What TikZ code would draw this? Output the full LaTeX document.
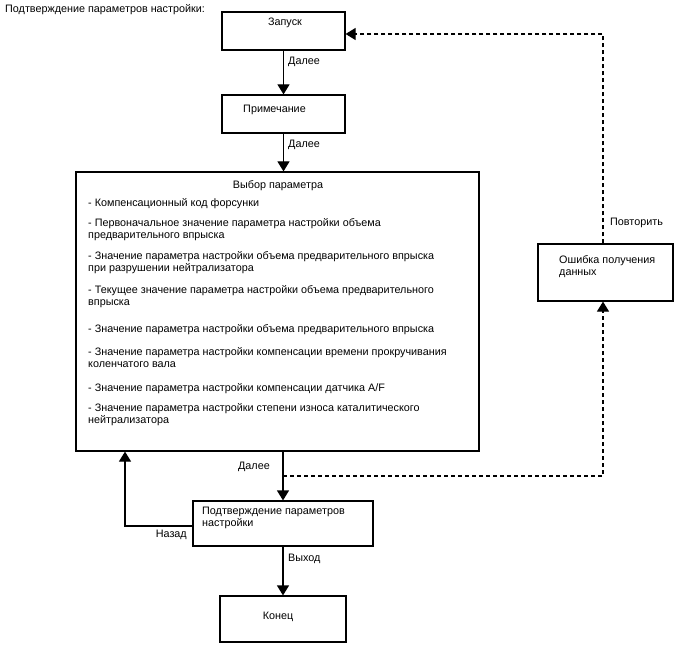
\documentclass[tikz,border=0pt]{standalone}
\usepackage{fontspec}
\setmainfont{Liberation Sans}
\usetikzlibrary{arrows.meta, positioning, calc}
\tikzset{
  box/.style={rectangle, draw=black, fill=white, line width=1.2pt, inner sep=0pt},
  txt/.style={font=\fontsize{10.8}{11.6}\selectfont, inner sep=0pt, align=left},
  arrow/.style={-{Triangle[length=10pt,width=12pt]}, line width=1.2pt, color=black},
  dasharrow/.style={arrow, dash pattern=on 4pt off 3pt},
  line/.style={line width=1.2pt, color=black}
}

\begin{document}
\begin{tikzpicture}[x=1pt, y=-1pt]
  \useasboundingbox (0,0) rectangle (688,658);

  % Boxes
  \node[box, minimum width=123pt, minimum height=38pt] (start) at (283.5,31) {};
  \node[box, minimum width=123pt, minimum height=38pt] (note) at (283.5,114) {};
  \node[box, minimum width=403pt, minimum height=279pt] (param) at (277.5,311.5) {};
  \node[box, minimum width=180pt, minimum height=45pt] (confirm) at (283,523.5) {};
  \node[box, minimum width=126pt, minimum height=46pt] (stop) at (283,619) {};
  \node[box, minimum width=135pt, minimum height=57pt] (error) at (605.5,272.5) {};

  % Box texts (base = last line)
  \node[txt, anchor=base west] (title) at (5,13) {Подтверждение параметров настройки:};
  \node[txt, anchor=base] (starttxt) at (285,26) {Запуск};
  \node[txt, anchor=base] (notetxt) at (274.5,113) {Примечание};
  \node[txt, anchor=base] (paramtxt) at (278,188) {Выбор параметра};
  \node[txt, anchor=base west] (item1) at (88,206) {- Компенсационный код форсунки};
  \node[txt, anchor=base west] (item2) at (88,238) {- Первоначальное значение параметра настройки объема\\предварительного впрыска};
  \node[txt, anchor=base west] (item3) at (88,271) {- Значение параметра настройки объема предварительного впрыска\\при разрушении нейтрализатора};
  \node[txt, anchor=base west] (item4) at (88,305) {- Текущее значение параметра настройки объема предварительного\\впрыска};
  \node[txt, anchor=base west] (item5) at (88,332) {- Значение параметра настройки объема предварительного впрыска};
  \node[txt, anchor=base west] (item6) at (88,367) {- Значение параметра настройки компенсации времени прокручивания\\коленчатого вала};
  \node[txt, anchor=base west] (item7) at (88,391) {- Значение параметра настройки компенсации датчика A/F};
  \node[txt, anchor=base west] (item8) at (88,423) {- Значение параметра настройки степени износа каталитического\\нейтрализатора};
  \node[txt, anchor=base west] (confirmtxt) at (202,526) {Подтверждение параметров\\настройки};
  \node[txt, anchor=base] (stoptxt) at (278,619) {Конец};
  \node[txt, anchor=base west] (errortxt) at (559,275) {Ошибка получения\\данных};

  % Turn points
  \coordinate (backturn) at (125,526);
  \coordinate (split) at (283,476);
  \coordinate (errturn) at (603,476);
  \coordinate (retryturn) at (603,34);

  % Main flow
  \draw[arrow] (start) -- (note);
  \draw[arrow] (note) -- (note.south |- param.north);
  \draw[arrow] (split |- param.south) -- (split |- confirm.north);
  \draw[arrow] (confirm) -- (stop);

  % Back and retry
  \draw[arrow] (confirm.west |- backturn) -- (backturn) -- (backturn |- param.south);
  \draw[dasharrow] (split) -- (errturn) -- (errturn |- error.south);
  \draw[dasharrow] (retryturn |- error.north) -- (retryturn) -- (start.east |- retryturn);

  % Connector labels
  \node[txt, anchor=base west] (next1) at (288,65) {Далее};
  \node[txt, anchor=base west] (next2) at (288,148) {Далее};
  \node[txt, anchor=base east] (next3) at (270,469) {Далее};
  \node[txt, anchor=base east] (back) at (187,537) {Назад};
  \node[txt, anchor=base west] (exit) at (288,561) {Выход};
  \node[txt, anchor=base west] (retry) at (610,225) {Повторить};
\end{tikzpicture}
\end{document}
